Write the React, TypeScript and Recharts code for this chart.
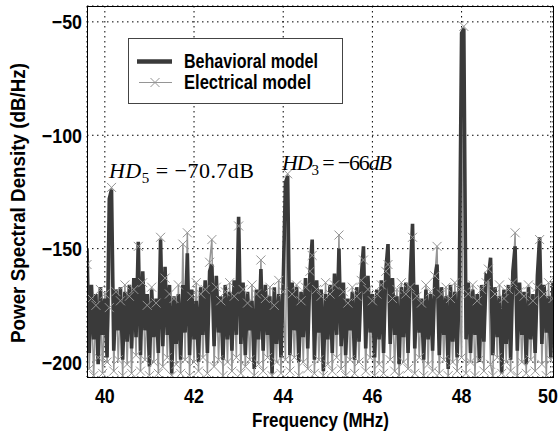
import { ComposedChart, Line, XAxis, YAxis, CartesianGrid } from "recharts"

// spectrum sampled on a uniform grid starting at 39.60 MHz, 0.05 MHz apart
const FREQ_START = 39.6
const FREQ_STEP = 0.05

// behavioral model PSD (dB/Hz), 10 samples per row = 0.5 MHz
const BEHAVIORAL = [
  -150, -196, -166, -190, -170, -201, -167, -188, -172, -198,
  -128, -124, -195, -168, -186, -167, -199, -169, -191, -166,
  -194, -163, -189, -147, -197, -160, -186, -170, -202, -168,
  -189, -172, -196, -146, -193, -158, -188, -166, -205, -171,
  -192, -170, -199, -166, -187, -152, -197, -168, -190, -173,
  -200, -167, -188, -164, -196, -160, -157, -193, -162, -187,
  -171, -199, -166, -190, -169, -195, -164, -188, -136, -192,
  -165, -197, -169, -186, -173, -203, -168, -190, -159, -195,
  -166, -188, -171, -205, -167, -192, -170, -198, -165, -121,
  -118, -197, -165, -186, -167, -200, -169, -189, -163, -194,
  -160, -146, -199, -164, -187, -168, -204, -170, -190, -166,
  -196, -161, -188, -150, -193, -165, -197, -172, -186, -169,
  -199, -167, -191, -163, -149, -194, -162, -187, -170, -198,
  -168, -190, -164, -196, -160, -148, -192, -163, -188, -171,
  -201, -167, -189, -165, -196, -162, -139, -194, -166, -187,
  -172, -199, -168, -190, -170, -195, -163, -157, -197, -167,
  -188, -171, -203, -166, -191, -169, -198, -164, -55, -53,
  -190, -165, -196, -168, -188, -170, -200, -166, -191, -162,
  -163, -154, -197, -167, -189, -171, -205, -168, -192, -166,
  -199, -160, -149, -195, -165, -188, -169, -201, -167, -190,
  -170, -196, -162, -145, -192, -166, -187, -171, -198, -165,
]

// electrical (transistor-level) model PSD (dB/Hz), same grid
const ELECTRICAL = [
  -157, -203, -172, -206, -175, -198, -168, -205, -170, -200,
  -176, -123, -204, -169, -199, -173, -206, -166, -201, -171,
  -205, -168, -197, -149, -204, -165, -199, -175, -206, -167,
  -200, -174, -205, -145, -202, -163, -198, -170, -206, -172,
  -201, -166, -205, -148, -199, -143, -206, -171, -200, -165,
  -204, -170, -198, -168, -205, -156, -146, -202, -167, -199,
  -173, -206, -169, -200, -165, -204, -171, -198, -140, -205,
  -168, -202, -174, -199, -166, -206, -170, -201, -155, -204,
  -172, -198, -167, -206, -175, -200, -164, -205, -169, -199,
  -117, -204, -170, -198, -166, -206, -173, -200, -167, -203,
  -160, -153, -205, -168, -199, -171, -206, -165, -201, -170,
  -204, -166, -198, -144, -203, -169, -206, -174, -199, -167,
  -205, -171, -200, -164, -155, -204, -168, -198, -173, -206,
  -170, -201, -166, -205, -160, -157, -199, -172, -204, -168,
  -206, -165, -200, -170, -203, -167, -145, -205, -171, -198,
  -174, -206, -166, -201, -169, -204, -162, -149, -205, -170,
  -199, -167, -206, -172, -200, -165, -204, -168, -198, -52,
  -205, -170, -200, -166, -206, -173, -199, -168, -204, -165,
  -159, -201, -206, -170, -198, -166, -205, -172, -200, -168,
  -204, -165, -143, -206, -169, -200, -171, -205, -166, -199,
  -173, -204, -167, -146, -201, -170, -206, -165, -199, -172,
]

const X_TICKS = [40, 42, 44, 46, 48, 50]
const Y_TICKS = [-200, -150, -100, -50]

const data = BEHAVIORAL.map((b, i) => ({
  f: +(FREQ_START + i * FREQ_STEP).toFixed(2),
  behavioral: b,
  electrical: ELECTRICAL[i],
}))

const SANS = "'Liberation Sans', Arial, sans-serif"
const SERIF = "'Liberation Serif', 'Times New Roman', serif"
const DARK = "#3a3a3a"
const LIGHT = "#959595"

const CrossDot = (props: any) => {
  const { cx, cy, index } = props
  if (cx == null || cy == null) return <g key={index} />
  const s = 4.5
  return (
    <path
      key={index}
      d={`M${cx - s},${cy - s}L${cx + s},${cy + s}M${cx - s},${cy + s}L${cx + s},${cy - s}`}
      stroke={LIGHT}
      strokeWidth={1}
      fill="none"
    />
  )
}

const fmt = (v: number) => String(v).replace("-", "\u2212")

// matlab-style condensed bold labels
const XTick = (props: any) => {
  const { x, payload } = props
  // last label sits on the window edge, keep it inside
  const tx = Math.min(x, 548)
  return (
    <text
      transform={`translate(${tx},403) scale(0.85,1)`}
      textAnchor="middle"
      fontFamily={SANS}
      fontWeight={700}
      fontSize={21}
      fill="#000"
    >
      {payload.value}
    </text>
  )
}

const YTick = (props: any) => {
  const { y, payload } = props
  return (
    <text
      transform={`translate(82,${y + 7.5}) scale(0.85,1)`}
      textAnchor="end"
      fontFamily={SANS}
      fontWeight={700}
      fontSize={21}
      fill="#000"
    >
      {fmt(payload.value)}
    </text>
  )
}

export default function App() {
  return (
    <div
      style={{
        position: "absolute",
        left: 0,
        top: 0,
        width: 559,
        height: 438,
        background: "#fff",
      }}
    >
      <ComposedChart
        width={559}
        height={438}
        data={data}
        margin={{ top: 6, right: 6, bottom: 0, left: 0 }}
      >
        <CartesianGrid stroke="#000" strokeDasharray="1.5 3.5" />
        <XAxis
          dataKey="f"
          type="number"
          domain={[39.6, 50.05]}
          ticks={X_TICKS}
          allowDataOverflow
          height={61}
          axisLine={false}
          tickLine={false}
          tick={<XTick />}
        />
        <YAxis
          type="number"
          domain={[-206.6, -43]}
          ticks={Y_TICKS}
          allowDataOverflow
          width={87}
          axisLine={false}
          tickLine={false}
          tick={<YTick />}
        />
        <Line
          dataKey="electrical"
          type="linear"
          stroke={LIGHT}
          strokeWidth={1.5}
          dot={CrossDot}
          activeDot={false}
          isAnimationActive={false}
        />
        <Line
          dataKey="behavioral"
          type="linear"
          stroke={DARK}
          strokeWidth={3.6}
          dot={false}
          activeDot={false}
          isAnimationActive={false}
        />
      </ComposedChart>
      <svg
        width={559}
        height={438}
        style={{ position: "absolute", left: 0, top: 0, pointerEvents: "none" }}
      >
        {/* plot frame */}
        <rect x={87.5} y={6.5} width={466} height={371} fill="none" stroke="#000" />

        {/* harmonic annotations */}
        <text x={109} y={178} fontFamily={SERIF} fontSize={22} fill="#000" textLength={145}>
          <tspan fontStyle="italic">HD</tspan>
          <tspan fontSize={15} dy={5}>5</tspan>
          <tspan dy={-5}> = {"\u2212"}70.7dB</tspan>
        </text>
        <text x={282} y={170} fontFamily={SERIF} fontSize={22} fill="#000" textLength={110}>
          <tspan fontStyle="italic">HD</tspan>
          <tspan fontSize={15} dy={5}>3</tspan>
          <tspan dy={-5}> = {"\u2212"}66</tspan>
          <tspan fontStyle="italic">dB</tspan>
        </text>

        {/* legend */}
        <rect x={128.5} y={38.5} width={214} height={65} fill="#fff" stroke="#444" />
        <line x1={137} y1={61.5} x2={172} y2={61.5} stroke={DARK} strokeWidth={4.5} />
        <text
          x={184}
          y={68}
          fontFamily={SANS}
          fontWeight={700}
          fontSize={21}
          fill="#000"
          textLength={134}
          lengthAdjust="spacingAndGlyphs"
        >
          Behavioral model
        </text>
        <line x1={139} y1={82.5} x2={172} y2={82.5} stroke={LIGHT} strokeWidth={1} />
        <CrossDot cx={155} cy={82.5} index="legend" />
        <text
          x={184}
          y={89}
          fontFamily={SANS}
          fontWeight={700}
          fontSize={21}
          fill="#000"
          textLength={127}
          lengthAdjust="spacingAndGlyphs"
        >
          Electrical model
        </text>

        {/* axis titles */}
        <text
          x={252}
          y={427}
          fontFamily={SANS}
          fontWeight={700}
          fontSize={20}
          fill="#000"
          textLength={137}
          lengthAdjust="spacingAndGlyphs"
        >
          Frequency (MHz)
        </text>
        <text
          transform="translate(25,343) rotate(-90)"
          fontFamily={SANS}
          fontWeight={700}
          fontSize={20}
          fill="#000"
          textLength={280}
          lengthAdjust="spacingAndGlyphs"
        >
          Power Spectral Density (dB/Hz)
        </text>
      </svg>
    </div>
  )
}
